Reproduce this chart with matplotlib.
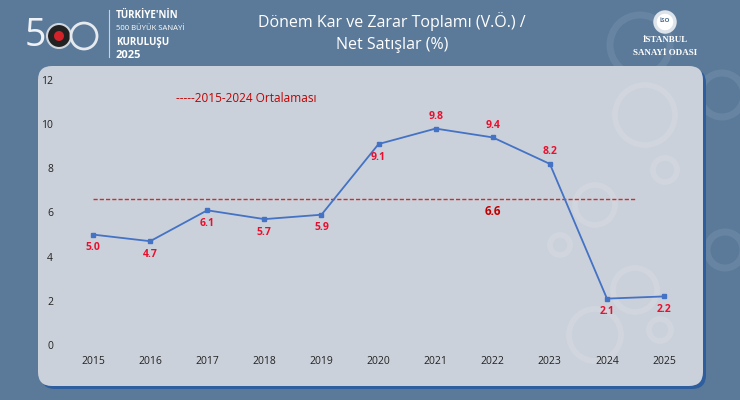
import matplotlib.pyplot as plt
from matplotlib.patches import FancyBboxPatch, Circle

# veriler
yillar = ["2015", "2016", "2017", "2018", "2019", "2020", "2021", "2022", "2023", "2024", "2025"]
oranlar = [5.0, 4.7, 6.1, 5.7, 5.9, 9.1, 9.8, 9.4, 8.2, 2.1, 2.2]
etiket_konum = ["alt", "alt", "alt", "alt", "alt", "alt", "ust", "ust", "ust", "alt", "alt"]
ortalama = 6.6
ortalama_etiket = "2015-2024 Ortalaması"
y_ticks = [0, 2, 4, 6, 8, 10, 12]

plt.rcParams['font.family'] = ['Open Sans', 'DejaVu Sans']

fig = plt.figure(figsize=(7.4, 4.0), dpi=100)
fig.patch.set_facecolor("#5b7a99")

# arka plan katmanı (piksel koordinatları)
bg = fig.add_axes([0, 0, 1, 1], zorder=0)
bg.set_xlim(0, 740)
bg.set_ylim(400, 0)
bg.axis("off")

# arka plandaki soluk dişliler (panel dışı)
for cx, cy, r in [(640, 45, 30), (722, 95, 22), (725, 250, 18)]:
    bg.add_patch(Circle((cx, cy), r, facecolor="none", edgecolor="#7391ae", lw=5, alpha=0.5))

# panel
bg.add_patch(FancyBboxPatch((41, 69), 665, 320, boxstyle="round,pad=0,rounding_size=14",
                            facecolor="#2e5e9e", edgecolor="none"))
panel = FancyBboxPatch((38, 66), 665, 320, boxstyle="round,pad=0,rounding_size=14",
                       facecolor="#cbd1da", edgecolor="none")
bg.add_patch(panel)

# panel içi soluk dişliler
for cx, cy, r in [(645, 115, 30), (665, 170, 12), (595, 205, 20), (560, 245, 10),
                  (635, 290, 22), (595, 335, 26), (660, 330, 11)]:
    c = Circle((cx, cy), r, facecolor="none", edgecolor="#dde1e7", lw=4, alpha=0.35)
    bg.add_patch(c)
    c.set_clip_path(panel)

# başlık
bg.text(392, 22, "Dönem Kar ve Zarar Toplamı (V.Ö.) /", ha="center", va="center", fontsize=11.5, color="white")
bg.text(392, 45, "Net Satışlar (%)", ha="center", va="center", fontsize=11.5, color="white")

# sol logo
bg.text(25, 36, "5", ha="left", va="center", fontsize=27, color="#eef1f5")
bg.add_patch(Circle((59, 36), 12, facecolor="#222222", edgecolor="#cfd6de", lw=1.5))
bg.add_patch(Circle((59, 36), 5, facecolor="#d2232a"))
bg.add_patch(Circle((84, 36), 13, facecolor="none", edgecolor="#e6eaef", lw=2))
bg.plot([109, 109], [10, 57], color="#c9d2dc", lw=0.8)
bg.text(116, 15, "TÜRKİYE'NİN", fontsize=7, color="white", fontweight="bold", va="center")
bg.text(116, 29, "500 BÜYÜK SANAYİ", fontsize=5.5, color="white", va="center")
bg.text(116, 43, "KURULUŞU", fontsize=7, color="white", fontweight="bold", va="center")
bg.text(116, 56, "2025", fontsize=8, color="white", fontweight="bold", va="center")

# sağ logo
bg.add_patch(Circle((665, 22), 10, facecolor="white", edgecolor="#dde3ea", lw=2.5))
bg.text(665, 21, "İSO", ha="center", va="center", fontsize=4.5, color="#4a6d90", fontweight="bold")
bg.text(665, 40, "İSTANBUL", ha="center", va="center", fontsize=6.5, color="white",
        fontweight="bold", family=["Liberation Serif", "DejaVu Serif"])
bg.text(665, 53, "SANAYİ ODASI", ha="center", va="center", fontsize=6.5, color="white",
        fontweight="bold", family=["Liberation Serif", "DejaVu Serif"])

# grafik
ax = fig.add_axes([0.081, 0.1375, 0.865, 0.6625], zorder=2)
ax.set_facecolor("none")
x = list(range(len(yillar)))
ax.plot(x, oranlar, color="#4472c4", lw=1.3, marker="s", markersize=3.5, zorder=3)
ax.plot([0, 9.5], [ortalama, ortalama], color="#d42a2f", lw=1.0, ls=(0, (3, 1.5)), zorder=2)
ax.text(7.0, ortalama - 0.55, f"{ortalama:.1f}", ha="center", va="center", fontsize=8.5,
        color="#c00000", fontweight="bold")
ax.text(1.45, 11.15, "-----" + ortalama_etiket, ha="left", va="center", fontsize=8.5, color="#c00000")

for xi, v, k in zip(x, oranlar, etiket_konum):
    dy = -0.6 if k == "alt" else 0.55
    ax.text(xi, v + dy, f"{v:.1f}", ha="center", va="center", fontsize=7.5,
            color="#e8102e", fontweight="bold")

ax.set_xlim(-0.58, 10.63)
ax.set_ylim(0, 12)
ax.set_yticks(y_ticks)
ax.set_xticks(x)
ax.set_xticklabels(yillar)
ax.tick_params(length=0, labelsize=7.5, colors="#222222")
ax.tick_params(axis="y", pad=5)
ax.tick_params(axis="x", pad=8)
for s in ax.spines.values():
    s.set_visible(False)
ax.axhline(0, color="#dde1e7", lw=0.8, zorder=1)

fig.savefig("out.png", dpi=100, facecolor=fig.get_facecolor())
